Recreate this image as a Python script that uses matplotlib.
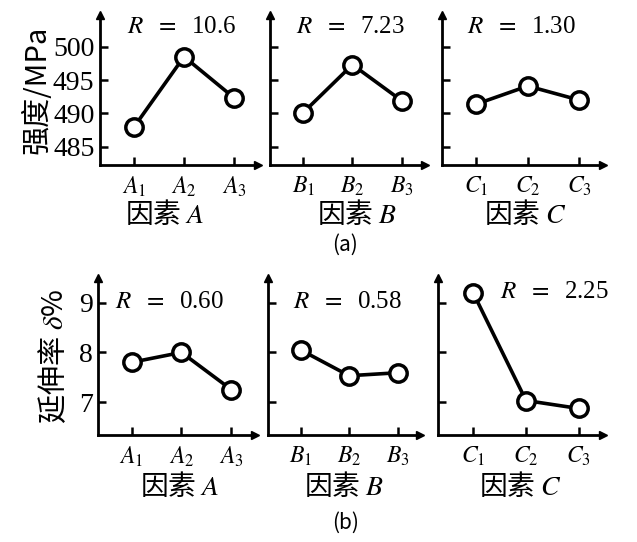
import matplotlib.pyplot as plt

plt.rcParams['mathtext.fontset'] = 'stix'
plt.rcParams['font.family'] = ['Liberation Serif', 'DejaVu Serif']

levels = [1, 2, 3]
factors = ["A", "B", "C"]

strength_A = [487.9, 498.5, 492.3]
strength_B = [490.1, 497.3, 491.9]
strength_C = [491.4, 494.1, 492.0]
strength_R = ["10.6", "7.23", "1.30"]
strength_ticks = [485, 490, 495, 500]

elong_A = [7.80, 8.00, 7.25]
elong_B = [8.05, 7.53, 7.59]
elong_C = [9.19, 7.03, 6.87]
elong_R = ["0.60", "0.58", "2.25"]
elong_ticks = [7, 8, 9]

cjk = ['Noto Sans CJK SC', 'DejaVu Sans']

fig = plt.figure(figsize=(6.37, 5.42), dpi=100)

# axes rectangles (left, bottom, width, height) in figure fractions
top_pos = [[0.157, 0.696, 0.248, 0.277],
           [0.424, 0.696, 0.243, 0.277],
           [0.694, 0.696, 0.253, 0.277]]
bot_pos = [[0.154, 0.197, 0.246, 0.290],
           [0.421, 0.197, 0.239, 0.290],
           [0.688, 0.197, 0.259, 0.290]]
top_rxy = [(0.17, 0.92), (0.17, 0.92), (0.155, 0.92)]
bot_rxy = [(0.11, 0.85), (0.165, 0.85), (0.375, 0.91)]
top_xlab = [0.41, 0.56, 0.52]
bot_xlab = [0.52, 0.5, 0.5]


def panel(pos, vals, fac, rtxt, rxy, ylim, yticks, show_y, xlab_x, xlab_y):
    ax = fig.add_axes(pos)
    ax.plot(levels, vals, color='black', lw=2.6, marker='o', ms=12.5,
            mfc='white', mec='black', mew=2.5, zorder=3, clip_on=False)
    ax.set_xlim(0.33, 3.47)
    ax.set_ylim(*ylim)
    for s in ['top', 'right']:
        ax.spines[s].set_visible(False)
    for s in ['left', 'bottom']:
        ax.spines[s].set_linewidth(2.0)
    ax.set_xticks(levels)
    ax.set_xticklabels([r"$%s_{%d}$" % (fac, i) for i in levels], fontsize=17)
    ax.set_yticks(yticks)
    if show_y:
        ax.set_yticklabels([str(t) for t in yticks], fontsize=20)
    else:
        ax.set_yticklabels([])
    ax.tick_params(direction='in', length=6, width=1.8, pad=7)
    ax.tick_params(axis='y', pad=4)
    # arrow heads on axes
    ax.plot(1, 0, '>', color='black', ms=6, transform=ax.transAxes, clip_on=False)
    ax.plot(0, 1, '^', color='black', ms=6, transform=ax.transAxes, clip_on=False)
    ax.text(rxy[0], rxy[1], r"$R\ \ =\ \ $" + rtxt, transform=ax.transAxes,
            fontsize=18, va='center', ha='left')
    ax.set_xlabel("因素 $%s$" % fac, family=cjk, fontsize=20, labelpad=2)
    ax.xaxis.set_label_coords(xlab_x, xlab_y)
    return ax


top_vals = [strength_A, strength_B, strength_C]
bot_vals = [elong_A, elong_B, elong_C]

for i in range(3):
    ax = panel(top_pos[i], top_vals[i], factors[i], strength_R[i], top_rxy[i],
               (482.3, 504.8), strength_ticks, i == 0, top_xlab[i], -0.235)
    if i == 0:
        ax.set_ylabel("强度/MPa", family=cjk, fontsize=21, labelpad=0)

for i in range(3):
    ax = panel(bot_pos[i], bot_vals[i], factors[i], elong_R[i], bot_rxy[i],
               (6.33, 9.5), elong_ticks, i == 0, bot_xlab[i], -0.235)
    if i == 0:
        ax.set_ylabel("延伸率 $\\delta$%", family=cjk, fontsize=21, labelpad=6)

fig.text(0.542, 0.548, "(a)", family=cjk, fontsize=15, ha='center', va='center')
fig.text(0.542, 0.036, "(b)", family=cjk, fontsize=15, ha='center', va='center')

fig.savefig("out.png", dpi=100)
